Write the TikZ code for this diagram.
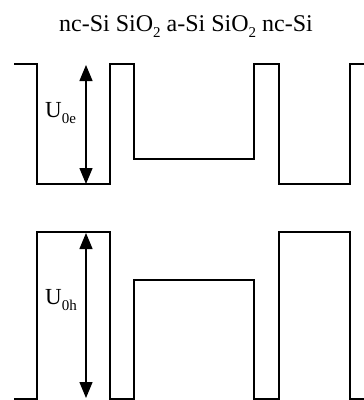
\documentclass[tikz,border=0pt]{standalone}
\usepackage{fontspec}
\setmainfont{Liberation Serif}
\usetikzlibrary{arrows.meta}
\newcommand{\lowsub}[1]{\raisebox{-6pt}{\fontsize{15}{16}\selectfont #1}}

\begin{document}
\begin{tikzpicture}[x=1pt, y=-1pt, every node/.style={font=\fontsize{23}{26}\selectfont, inner sep=0pt},
	band/.style={line width=1.7pt, line join=miter},
	height/.style={line width=1.4pt, {Triangle[length=16pt,width=13pt]}-{Triangle[length=16pt,width=13pt]}}]
	\useasboundingbox (0,0) rectangle (364,400);
	% layer sequence
	\node[anchor=base, font=\fontsize{24}{27}\selectfont] (title) at (186,31) {nc-Si SiO\lowsub{2} a-Si SiO\lowsub{2} nc-Si};
	% conduction band
	\draw[band] (14,64) -- (37,64) -- (37,184) -- (110,184) -- (110,64) -- (134,64) -- (134,159)
		-- (254,159) -- (254,64) -- (279,64) -- (279,184) -- (350,184) -- (350,64) -- (364,64);
	\coordinate (e top) at (86,65);
	\coordinate (e bot) at (86,184);
	\draw[height] (e bot) -- (e top);
	\node[anchor=base west] (Ue) at (45,117) {U\lowsub{0e}};
	% valence band
	\draw[band] (14,399) -- (37,399) -- (37,232) -- (110,232) -- (110,399) -- (134,399) -- (134,280)
		-- (254,280) -- (254,399) -- (279,399) -- (279,232) -- (350,232) -- (350,399) -- (364,399);
	\coordinate (h top) at (86,233);
	\coordinate (h bot) at (86,398);
	\draw[height] (h bot) -- (h top);
	\node[anchor=base west] (Uh) at (45,304) {U\lowsub{0h}};
\end{tikzpicture}
\end{document}
